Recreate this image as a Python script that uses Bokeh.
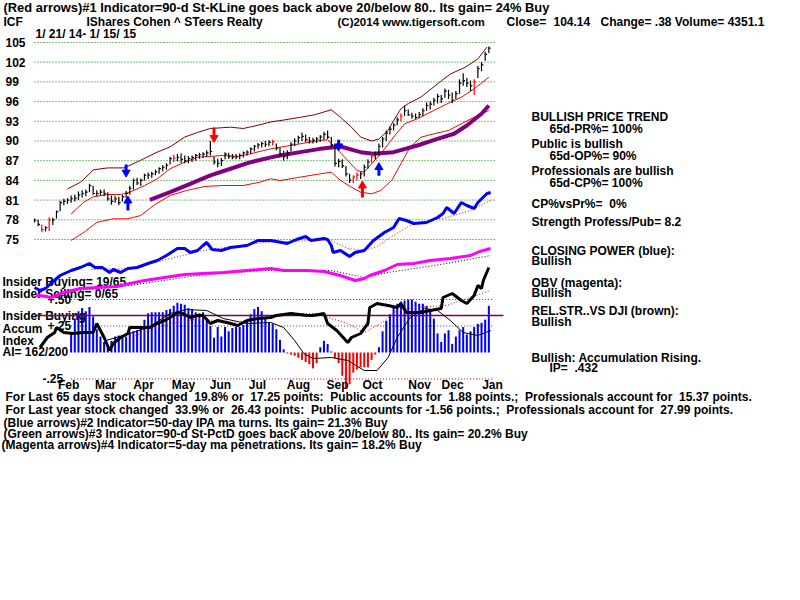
from bokeh.plotting import figure
from bokeh.models import Range1d
from bokeh.core.properties import value
from bokeh.embed import file_html
from bokeh.resources import INLINE

# ---------------- DATA ----------------
# price bars (one bar per two trading days, 1/21/14 .. 1/15/15)
highs = [78.2,78.0,77.3,77.0,78.4,78.3,79.4,80.9,81.2,81.3,
 81.7,81.8,82.3,82.5,82.6,83.5,83.2,82.5,82.6,82.6,
 82.2,81.7,81.6,81.5,81.8,82.4,83.2,84.3,84.4,84.3,
 85.0,85.2,85.3,85.6,86.0,86.3,86.6,87.6,87.9,88.0,
 88.1,87.8,87.7,87.8,88.0,88.2,88.3,88.6,90.0,87.6,
 87.3,87.4,88.3,88.2,88.0,88.0,88.1,88.4,88.6,89.0,
 89.4,89.7,89.9,90.0,90.1,90.2,89.6,89.0,88.5,88.6,
 89.8,90.4,90.8,91.3,91.0,90.6,90.5,90.6,90.9,91.4,
 91.6,90.6,89.5,87.3,87.2,86.2,85.0,84.8,85.2,85.3,
 86.4,87.2,88.2,88.4,89.6,90.6,91.6,92.2,92.7,93.6,
 94.2,95.4,94.8,94.3,94.2,94.4,95.0,95.9,96.0,96.6,
 97.2,97.0,98.0,97.8,97.4,97.6,99.4,100.3,99.6,99.2,
 99.4,101.4,102.0,103.6,104.4]
lows = [77.6,77.0,76.1,76.2,76.3,77.2,78.2,79.3,80.2,80.4,
 80.6,80.8,81.0,81.4,81.6,82.2,81.8,81.6,81.7,81.6,
 80.9,80.3,80.6,80.2,80.8,81.3,81.8,82.6,83.3,83.2,
 84.0,84.2,84.4,84.8,85.0,85.4,85.6,86.4,86.8,86.9,
 86.7,86.6,86.6,86.8,87.0,87.3,87.4,87.6,87.8,86.4,
 86.0,86.2,87.2,87.3,87.2,87.2,87.2,87.5,87.8,88.0,
 88.4,88.8,89.0,89.1,89.2,89.3,88.6,87.6,87.0,87.2,
 88.4,89.2,89.6,90.0,89.8,89.6,89.6,89.7,89.9,90.2,
 90.3,89.0,86.1,86.0,85.9,84.6,83.6,83.6,84.0,84.2,
 84.6,85.8,86.7,87.2,87.8,89.0,90.0,91.0,91.6,92.4,
 93.0,93.8,93.8,93.4,93.4,93.5,93.8,94.6,94.8,95.4,
 95.7,95.8,96.6,96.4,95.8,96.4,97.2,98.4,98.2,97.6,
 97.0,99.6,100.6,102.2,103.4]
closes = [77.9,77.3,76.5,76.8,78.0,78.0,79.2,80.6,80.8,81.0,
 81.2,81.3,81.8,82.0,82.2,83.2,82.0,82.0,82.2,82.0,
 81.2,80.8,81.2,80.6,81.5,82.0,82.8,84.0,83.6,84.0,
 84.8,84.8,85.0,85.3,85.8,86.0,86.3,87.3,87.4,87.5,
 87.2,87.0,87.3,87.5,87.8,87.9,88.0,88.2,88.4,86.8,
 86.6,87.0,88.0,87.6,87.5,87.6,87.8,88.2,88.3,88.8,
 89.2,89.4,89.6,89.5,89.8,89.9,88.9,88.0,87.6,88.2,
 89.5,90.0,90.5,90.7,90.2,90.0,90.1,90.3,90.6,91.0,
 90.6,89.4,86.6,86.9,86.2,85.0,84.0,84.5,84.8,85.0,
 86.0,86.8,87.6,88.0,89.2,90.3,91.2,91.8,92.4,93.2,
 93.8,94.6,94.0,93.8,93.6,94.0,94.6,95.4,95.6,96.2,
 96.8,96.4,97.6,97.0,96.2,97.2,98.8,99.2,98.8,98.4,
 99.0,101.0,101.6,103.2,104.14]
red_bars = [2, 4, 38, 65, 87, 88, 92, 100, 120]
bar_days = [2 * i for i in range(len(closes))]

# bands / moving averages (trading-day index, price)
ub_days = [18,25,30,32,40,49,56,67,74,82,89,96,107,114,122,129,134,145,153,162,
           167,173,178,184,188,193,196,200,204,211,220,227,235,242,247]
ub_vals = [82.7,83.7,85.0,85.6,85.9,85.9,86.8,88.3,89.1,90.6,91.3,91.9,92.1,91.9,92.4,92.9,
           93.1,93.6,94.0,94.75,93.6,92.1,90.6,90.0,90.3,91.6,93.1,94.9,95.7,96.7,98.7,
           100.2,101.2,102.5,104.3]
mb_days = [20,27,32,40,47,52,60,67,74,82,89,96,103,111,118,125,129,134,145,156,160,166,
           171,176,180,184,189,196,202,209,218,227,233,240,248]
mb_vals = [78.9,80.7,81.5,81.85,81.85,82.2,83.2,84.24,85.77,86.77,87.53,87.64,87.8,87.64,
           88.05,88.55,88.81,89.05,89.57,90.08,90.18,88.5,87.03,85.5,85.25,86.53,88.05,
           90.58,92.62,93.38,94.64,95.9,96.67,97.95,99.7]
ma_days = [63,74,85,96,107,118,129,134,145,156,167,178,185,196,209,220,229,236,244,248]
ma_vals = [81.05,82.2,83.48,84.75,85.77,86.77,87.5,87.8,88.3,88.8,89.16,88.3,88.05,88.3,
           89.31,90.33,91.1,92.36,94.14,95.4]
lb_days = [20,27,34,43,51,58,65,74,83,93,103,114,123,129,134,145,156,162,167,173,178,184,
           189,195,200,205,211,218,226,233,240,248]
lb_vals = [74.85,76.1,77.6,78.15,78.15,78.65,80.18,81.7,82.46,83.07,83.22,83.22,83.73,84.24,
           83.98,84.49,85.0,85.25,84.0,82.96,82.2,81.96,82.46,84.0,86.53,89.05,90.58,91.1,
           91.6,92.62,93.62,94.64]

# signal arrows: day, tail price, tip price, colour
arrow_days = [50, 51, 98, 166, 179, 188]
arrow_tail = [86.4, 79.4, 92.05, 90.2, 81.4, 84.7]
arrow_tip = [85.2, 80.9, 90.5, 89.2, 83.2, 86.0]
arrow_col = ["#0000ff", "#0000ff", "#ff0000", "#0000ff", "#ff0000", "#0000ff"]

price_ticks = [75, 78, 81, 84, 87, 90, 93, 96, 99, 102, 105]

# indicator lines (arbitrary indicator units)
cp_days = [0,3,6,9,14,20,25,30,33,37,41,43,47,51,56,62,67,72,78,82,85,89,92,94,97,102,107,
           116,122,129,138,143,148,151,158,160,162,163,167,172,175,180,185,191,196,199,203,
           207,214,220,223,225,229,233,236,240,242,247,249]
cp_vals = [73,70,72,77,85,90,93,97,93,93,88,91,88,92,93,97,100,105,112,112,108,110,115,118,
           111,110,113,115,120,120,117,121,124,120,122,121,115,108,110,104,108,110,120,128,
           133,142,140,137,138,143,147,153,147,158,155,152,158,167,168]
cpma_days = [31,52,70,92,125,152,162,171,180,187,194,207,225,238,249]
cpma_vals = [91,92,100,110,118,120,120,112,110,114,123,137,143,150,160]
obv_days = [1,3,9,16,25,34,45,52,60,71,82,92,103,116,129,136,149,158,167,175,180,183,191,
            198,207,216,227,238,243,249]
obv_vals = [65,65,63,68,72,73,74,77,80,83,86,87,88,90,92,90,90,89,85,80,82,85,90,96,97,100,
            102,105,109,112]
obvma_days = [25,52,89,125,162,180,193,225,249]
obvma_vals = [70,75,85,90,90,83,88,97,105]
rs_days = [3,7,11,12,16,21,27,32,34,38,41,43,47,51,52,58,63,67,71,74,78,81,85,89,92,96,100,
           105,111,116,122,129,132,140,149,152,158,160,165,171,173,178,182,183,187,193,198,
           200,203,211,216,222,223,228,233,236,240,242,244,245,248]
rs_vals = [13,23,28,33,28,27,28,28,37,23,10,17,23,27,33,33,33,37,40,43,48,47,43,45,45,37,40,
           38,35,40,42,43,45,47,45,45,47,37,30,18,23,27,37,53,57,55,53,57,48,48,50,52,63,67,
           60,57,65,75,72,80,93]
rsma_days = [52,70,89,107,125,143,154,162,171,180,189,198,207,225,236,249]
rsma_vals = [23,35,42,38,42,47,47,42,37,28,37,50,53,55,62,70]
aima_days = [39,52,62,74,83,94,103,116,129,136,142,147,152,162,171,180,187,193,198,205,213,
             220,227,234,242,249]
aima_vals = [20,27,33,47,51,50,42,37,38,33,20,7,2,3,0,-10,-10,3,23,43,52,50,40,28,25,30]

# accumulation index histogram (bar index 10..124)
acc_vals = [0.19,0.32,0.39,0.42,0.39,0.43,0.34,0.22,0.15,0.10,
 0.07,0.11,0.15,0.16,0.16,0.15,0.19,0.20,0.21,0.25,
 0.31,0.37,0.38,0.38,0.38,0.38,0.40,0.41,0.44,0.47,
 0.46,0.45,0.42,0.41,0.38,0.37,0.38,0.32,0.25,0.14,
 0.24,0.15,0.24,0.20,0.23,0.24,0.24,0.26,0.30,0.36,
 0.41,0.43,0.39,0.33,0.28,0.27,0.22,0.12,0.03,-0.01,
 -0.02,-0.03,-0.05,-0.07,-0.09,-0.11,-0.15,-0.10,0.05,0.11,
 0.08,0.01,-0.05,-0.10,-0.22,-0.33,-0.30,-0.19,-0.16,-0.14,
 -0.14,-0.14,-0.07,-0.02,0.05,0.20,0.30,0.36,0.42,0.46,
 0.48,0.49,0.50,0.50,0.48,0.46,0.46,0.44,0.40,0.32,
 0.18,0.10,0.18,0.21,0.08,0.15,0.21,0.24,0.17,0.20,
 0.24,0.27,0.28,0.31,0.44]
acc_days = [2 * (i + 10) for i in range(len(acc_vals))]
acc_ref_level = 0.35
acc_ticks = [0.50, 0.25, -0.25]
acc_tick_labels = ["+.50", "+.25", "-.25"]

months = ["Feb", "Mar", "Apr", "May", "Jun", "Jul", "Aug", "Sep", "Oct", "Nov", "Dec", "Jan"]
month_pos = [18.6, 38.8, 59.5, 81.3, 101.5, 121.7, 144.1, 165.4, 184.5, 210.2, 228.2, 250.0]

# ---------------- FIGURE ----------------
p = figure(width=800, height=600, x_range=Range1d(0, 800), y_range=Range1d(600, 0),
           min_border=0, x_axis_type=None, y_axis_type=None, toolbar_location=None,
           output_backend="svg", outline_line_color=None,
           background_fill_color="white", border_fill_color="white")
p.min_border_left = p.min_border_right = p.min_border_top = p.min_border_bottom = 0
p.extra_x_ranges = {"day": Range1d(-18.56, 418.12)}
p.extra_y_ranges = {"price": Range1d(20.03, 111.39), "acc": Range1d(-2.34, 3.321),
                    "ind": Range1d(-240, 360)}

FONT = value("Liberation Sans")
FS = "12px"


def txt(x, y, s, xr="default", yr="default", align="left", color="black", size=FS):
    s = s.replace("  ", " \u00a0")
    p.text(x=[x], y=[y], text=[s], text_font=FONT, text_font_style="bold",
           text_font_size=size, text_align=align, text_baseline="middle",
           text_color=color, x_range_name=xr, y_range_name=yr)


D = dict(x_range_name="day")
# price grid
p.segment(x0=[0] * len(price_ticks), x1=[252] * len(price_ticks), y0=price_ticks,
          y1=price_ticks, line_color="#008000", line_dash="1 2", line_width=1,
          y_range_name="price", **D)
for t in price_ticks:
    txt(5, t, str(t), yr="price")

# accumulation grid
p.segment(x0=[20, 20, 20], x1=[250, 250, 250], y0=acc_ticks, y1=acc_ticks,
          line_color=["#a00000", "#404040", "#a00000"], line_dash="1 2",
          y_range_name="acc", **D)

# histogram
acc_colors = ["#0000ff" if v >= 0 else "#ff0000" for v in acc_vals]
p.vbar(x=acc_days, top=acc_vals, bottom=0, width=1.1, fill_color=acc_colors,
       line_color=None, y_range_name="acc", **D)

# left panel labels (under the lines)
txt(2, 281.7, "Insider Buying= 19/65")
txt(2, 293.3, "Insider Selling= 0/65")
txt(2, 315, "Insider Buying")
txt(2, 328.3, "Accum")
txt(2, 340, "Index")
txt(2, 351, "AI= 162/200")
for v_, lab, xx in zip(acc_ticks, acc_tick_labels, [47, 47, 42]):
    txt(xx, v_, lab, yr="acc")

p.segment(x0=[0], x1=[256], y0=[acc_ref_level], y1=[acc_ref_level], line_color="#800050",
          line_width=1.5, y_range_name="acc", **D)

# indicator lines
I = dict(x_range_name="day", y_range_name="ind")
p.line(aima_days, aima_vals, line_color="black", line_width=1, **I)
p.line(rsma_days, rsma_vals, line_color="#ff0000", line_dash="1 2", line_width=1, **I)
p.line(rs_days, rs_vals, line_color="black", line_width=3, **I)
p.line(obvma_days, obvma_vals, line_color="black", line_dash="1 2", line_width=1, **I)
p.line(obv_days, obv_vals, line_color="#ff00ff", line_width=3, **I)
p.line(cpma_days, cpma_vals, line_color="#ff0000", line_dash="1 2", line_width=1, **I)
p.line(cp_days, cp_vals, line_color="#0000ff", line_width=3, **I)

# price bands
P = dict(x_range_name="day", y_range_name="price")
p.line(ub_days, ub_vals, line_color="#800000", line_width=1, **P)
p.line(mb_days, mb_vals, line_color="#ff0000", line_width=1, **P)
p.line(lb_days, lb_vals, line_color="#ff0000", line_width=1, **P)
p.line(ma_days, ma_vals, line_color="#800080", line_width=4, **P)

# price bars
bar_colors = ["#ff0000" if i in red_bars else "black" for i in range(len(closes))]
p.segment(x0=bar_days, x1=bar_days, y0=lows, y1=highs, line_color=bar_colors,
          line_width=1.2, **P)
p.segment(x0=bar_days, x1=[d + 1.0 for d in bar_days], y0=closes, y1=closes,
          line_color=bar_colors, line_width=1.2, **P)

# arrows
p.segment(x0=arrow_days, x1=arrow_days, y0=arrow_tail, y1=arrow_tip, line_color=arrow_col,
          line_width=3, **P)
markers = ["inverted_triangle" if tp < tl else "triangle" for tp, tl in zip(arrow_tip, arrow_tail)]
p.scatter(x=arrow_days, y=arrow_tip, marker=markers, size=8, fill_color=arrow_col,
          line_color=arrow_col, **P)

# month labels
for m, pos in zip(months, month_pos):
    txt(pos, 384.5, m, xr="day", align="center")

# header
txt(3, 7, "(Red arrows)#1 Indicator=90-d St-KLine goes back above 20/below 80.. Its gain= 24% Buy",
    size="12.9px")
txt(3, 21, "ICF")
txt(86, 21, "IShares Cohen ^ STeers Realty")
txt(337, 21, "(C)2014 www.tigersoft.com", size="11.5px")
txt(506, 21, "Close=")
txt(553, 21, "104.14")
txt(600, 21, "Change= .38 Volume= 4351.1")
txt(35, 33.5, "1/ 21/ 14- 1/ 15/ 15")

# right column
right = [(531, 116, "BULLISH PRICE TREND"), (549, 128.3, "65d-PR%= 100%"),
         (531, 143.3, "Public is bullish"), (549, 155, "65d-OP%= 90%"),
         (531, 170.7, "Professionals are bullish"), (549, 182.7, "65d-CP%= 100%"),
         (531, 203.3, "CP%vsPr%=  0%"), (531, 221.7, "Strength Profess/Pub= 8.2"),
         (531, 250, "CLOSING POWER (blue):"), (531, 260.7, "Bullish"),
         (531, 282.7, "OBV (magenta):"), (531, 292.7, "Bullish"),
         (531, 310.7, "REL.STR..VS DJI (brown):"), (531, 321, "Bullish"),
         (531, 357.7, "Bullish: Accumulation Rising."), (549, 367.7, "IP=  .432")]
for x, y, s in right:
    txt(x, y, s)

# bottom lines
bottom = [(5, 396.7, "For Last 65 days stock changed  19.8% or  17.25 points:  Public accounts for  1.88 points.;  Professionals account for  15.37 points."),
          (5, 409.5, "For Last year stock changed  33.9% or  26.43 points:  Public accounts for -1.56 points.;  Professionals account for  27.99 points."),
          (3, 422.3, "(Blue arrows)#2 Indicator=50-day IPA ma turns. Its gain= 21.3% Buy"),
          (3, 433.3, "(Green arrows)#3 Indicator=90-d St-PctD goes back above 20/below 80.. Its gain= 20.2% Buy"),
          (1, 444, "(Magenta arrows)#4 Indicator=5-day ma penetrations. Its gain= 18.2% Buy")]
for x, y, s in bottom:
    txt(x, y, s)

open("out.html", "w").write(file_html(p, INLINE))
